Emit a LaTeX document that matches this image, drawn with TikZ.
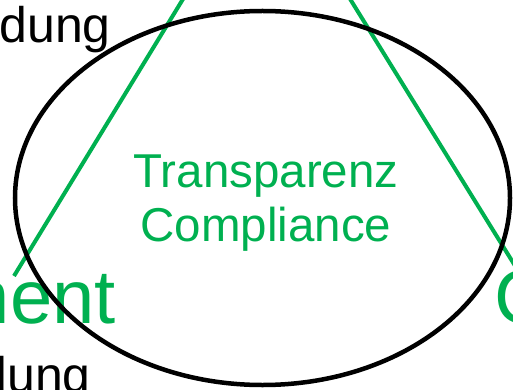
\documentclass[tikz,border=0pt]{standalone}
\usepackage{fontspec}
\usetikzlibrary{shapes.geometric}
\setmainfont{Liberation Sans}
\definecolor{grn}{RGB}{0,176,80}
\tikzset{
  ring/.style={draw=black, line width=4.5pt},
  side/.style={draw=grn, line width=4pt},
  bigtxt/.style={text=grn, font=\fontsize{76}{76}\selectfont, inner sep=0pt},
  midtxt/.style={text=grn, font=\fontsize{47.5}{54}\selectfont, align=center, inner sep=0pt},
  blktxt/.style={text=black, font=\fontsize{50}{50}\selectfont, inner sep=0pt}
}
\begin{document}
\begin{tikzpicture}[x=1pt,y=-1pt]
\useasboundingbox (0,0) rectangle (513,390);
\clip (0,0) rectangle (513,390);
\coordinate (apex) at (266,-137);
\coordinate (lend) at (14,276);
\coordinate (rend) at (530,290);
\node[blktxt, anchor=base east] (t1) at (111,43) {dung};
\node[blktxt, anchor=base east] (t2) at (91,392) {dung};
\node[bigtxt, anchor=base east] (mg) at (116,323) {ment};
\node[bigtxt, anchor=base west] (ct) at (494,323) {C};
\node[midtxt] (tc) at (266,203) {Transparenz\\Compliance};
\draw[side] (lend) -- (apex) -- (rend);
\node[ring, ellipse, minimum width=495pt, minimum height=374pt, inner sep=0pt] (el) at (262.5,198) {};
\end{tikzpicture}
\end{document}
